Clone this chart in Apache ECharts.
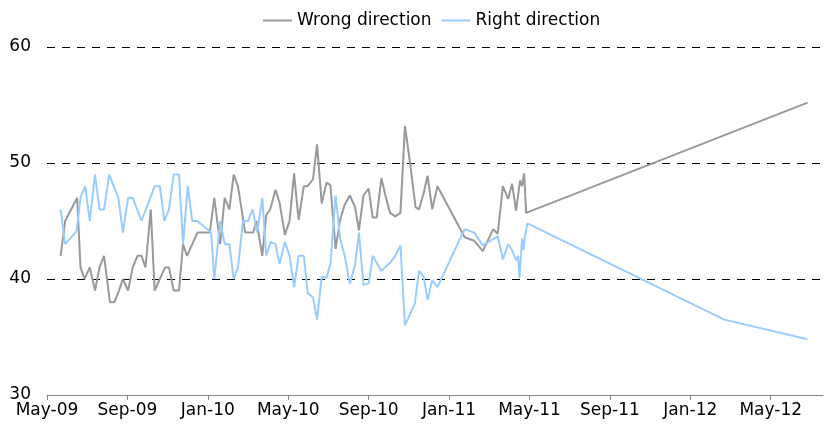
<!DOCTYPE html>
<html>
<head>
<meta charset="utf-8">
<script src="https://cdn.jsdelivr.net/npm/echarts@6/dist/echarts.min.js"></script>
<style>
  html, body { margin: 0; padding: 0; background: #fff; }
  #chart { width: 825px; height: 442px; }
</style>
</head>
<body>
<div id="chart"></div>
<script>
// weekly poll readings, then the projection out to mid-2012
var wrongDates = ['2009-05-22','2009-05-29','2009-06-16','2009-06-21','2009-06-27','2009-07-05','2009-07-13','2009-07-20','2009-07-27','2009-08-05','2009-08-12','2009-08-19','2009-08-25','2009-09-02','2009-09-09','2009-09-16','2009-09-22','2009-09-28','2009-10-06','2009-10-12','2009-10-20','2009-10-28','2009-11-03','2009-11-10','2009-11-18','2009-11-24','2009-11-30','2009-12-08','2009-12-16','2010-01-04','2010-01-11','2010-01-20','2010-01-27','2010-02-03','2010-02-09','2010-02-15','2010-02-25','2010-03-09','2010-03-14','2010-03-23','2010-03-29','2010-04-04','2010-04-12','2010-04-18','2010-04-26','2010-05-03','2010-05-10','2010-05-17','2010-05-25','2010-05-31','2010-06-08','2010-06-14','2010-06-21','2010-06-28','2010-07-04','2010-07-12','2010-07-19','2010-07-26','2010-08-03','2010-08-11','2010-08-17','2010-08-24','2010-09-01','2010-09-07','2010-09-13','2010-09-20','2010-09-26','2010-10-03','2010-10-11','2010-10-19','2010-10-26','2010-11-03','2010-11-11','2010-11-16','2010-11-23','2010-11-29','2010-12-06','2010-12-14','2011-01-25','2011-02-08','2011-02-20','2011-03-07','2011-03-14','2011-03-22','2011-03-30','2011-04-05','2011-04-11','2011-04-17','2011-04-20','2011-04-23','2011-04-26','2012-06-26'];
var wrongValues = [42,45,47,41,40,41,39,41,42,38,38,39,40,39,41,42,42,41,46,39,40,41,41,39,39,43,42,43,44,44,47,43,47,46,49,48,44,44,45,42,45.5,46,47.7,46.6,43.8,45,49.1,45.1,48,48,48.6,51.6,46.5,48.3,48.1,42.6,45.1,46.4,47.2,46.2,44.2,47.2,47.8,45.3,45.3,48.7,47.2,45.7,45.4,45.7,53.2,49.9,46.2,46,47.4,48.9,46,48,43.6,43.3,42.4,44.3,43.9,48,46.9,48.2,45.9,48.5,48,49.1,45.7,55.2];

var rightDates = ['2009-05-22','2009-05-29','2009-06-15','2009-06-21','2009-06-28','2009-07-05','2009-07-13','2009-07-20','2009-07-27','2009-08-04','2009-08-18','2009-08-25','2009-09-02','2009-09-09','2009-09-22','2009-10-12','2009-10-20','2009-10-27','2009-11-03','2009-11-10','2009-11-18','2009-11-24','2009-12-01','2009-12-08','2009-12-16','2010-01-06','2010-01-11','2010-01-20','2010-01-27','2010-02-03','2010-02-09','2010-02-15','2010-02-22','2010-03-01','2010-03-08','2010-03-15','2010-03-23','2010-03-29','2010-04-05','2010-04-12','2010-04-18','2010-04-26','2010-05-03','2010-05-10','2010-05-17','2010-05-25','2010-05-31','2010-06-08','2010-06-14','2010-06-21','2010-06-28','2010-07-04','2010-07-12','2010-07-19','2010-07-26','2010-08-03','2010-08-11','2010-08-17','2010-08-24','2010-09-01','2010-09-07','2010-09-20','2010-10-03','2010-10-11','2010-10-19','2010-10-26','2010-11-10','2010-11-16','2010-11-23','2010-11-29','2010-12-06','2010-12-14','2011-01-25','2011-02-08','2011-02-20','2011-03-14','2011-03-22','2011-03-30','2011-04-05','2011-04-11','2011-04-14','2011-04-16','2011-04-20','2011-04-22','2011-04-24','2011-04-28','2012-02-21','2012-06-26'];
var rightValues = [46,43,44.1,47,48,45,49,46,46,49,47,44,47,47,45,48,48,45,46,49,49,43,48,45,45,44,40,45,43,43,40,41,45,45,46,44,47,42,43.2,43,41.3,43.2,42,39.3,42,42,38.8,38.4,36.5,40.2,40.1,41.3,47.2,43.5,42,39.6,41.2,44,39.5,39.6,42,40.7,41.4,42,42.9,36,37.9,40.7,40.2,38.2,39.9,39.3,44.3,44,42.9,43.7,41.7,43,42.5,41.6,42,40.1,43.5,42.5,43.6,44.8,36.5,34.8];

var monthNames = ['Jan','Feb','Mar','Apr','May','Jun','Jul','Aug','Sep','Oct','Nov','Dec'];
var startYear = 2009, startMonth = 5; // x axis counts months from May-09

// date string -> months since May-09 (fractional)
function toMonths(s) {
  var p = s.split('-').map(Number);
  var dim = new Date(p[0], p[1], 0).getDate();
  return (p[0] - startYear) * 12 + (p[1] - startMonth) + (p[2] - 1) / dim;
}
function monthLabel(v) {
  if (Math.abs(v % 4) > 1e-6) return '';
  var idx = startMonth - 1 + v;
  var y = startYear + Math.floor(idx / 12);
  return monthNames[idx % 12] + '-' + String(y).slice(2);
}
function pairs(dates, vals) {
  return dates.map(function (d, i) { return [toMonths(d), vals[i]]; });
}

var font = 'DejaVu Sans';
var myChart = echarts.init(document.getElementById('chart'));
myChart.setOption({
  animation: false,
  textStyle: { fontFamily: font },
  legend: {
    top: 7,
    left: 258,
    icon: 'rect',
    itemWidth: 29,
    itemHeight: 2,
    itemGap: 10,
    textStyle: { fontFamily: font, fontSize: 17, color: '#000' },
    data: ['Wrong direction', 'Right direction']
  },
  grid: { left: 47, right: 2, top: 47, bottom: 47, containLabel: false },
  xAxis: {
    type: 'value',
    min: 0,
    max: 38.6,
    interval: 4,
    splitLine: { show: false },
    axisLine: { lineStyle: { color: '#868686', width: 1 } },
    axisTick: { length: 5, lineStyle: { color: '#868686' } },
    axisLabel: {
      showMaxLabel: false,
      margin: 7,
      color: '#000',
      fontFamily: font,
      fontSize: 17,
      formatter: monthLabel
    }
  },
  yAxis: {
    type: 'value',
    min: 30,
    max: 60,
    interval: 10,
    axisLine: { show: false },
    axisTick: { show: false },
    axisLabel: { margin: 16, color: '#000', fontFamily: font, fontSize: 17 },
    splitLine: { lineStyle: { color: '#000', type: [8, 7], width: 1 } }
  },
  series: [
    {
      name: 'Wrong direction',
      type: 'line',
      data: pairs(wrongDates, wrongValues),
      showSymbol: false,
      color: '#999999',
      lineStyle: { width: 2, color: '#999999' }
    },
    {
      name: 'Right direction',
      type: 'line',
      data: pairs(rightDates, rightValues),
      showSymbol: false,
      color: '#99ccff',
      lineStyle: { width: 2, color: '#99ccff' }
    }
  ]
});
</script>
</body>
</html>
